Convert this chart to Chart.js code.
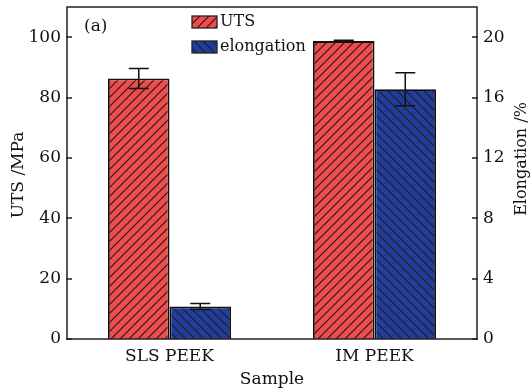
<!DOCTYPE html>
<html>
<head>
<meta charset="utf-8">
<script src="https://cdn.jsdelivr.net/npm/chart.js@4.4.0/dist/chart.umd.min.js"></script>
<style>
  html, body { margin: 0; padding: 0; background: #fff; }
  #wrap { width: 531px; height: 392px; }
</style>
</head>
<body>
<div id="wrap"><canvas id="chart" width="531" height="392"></canvas></div>
<script>
/* #region DATA */
const samples = ["SLS PEEK", "IM PEEK"];
const utsValues = [86.3, 98.7];
const utsErrors = [3.3, 0.3];
const elongValues = [2.15, 16.55];
const elongErrors = [0.2, 1.1];
const utsTicks = [0, 20, 40, 60, 80, 100];
const elongTicks = [0, 4, 8, 12, 16, 20];
/* #endregion */

const FONT = "'DejaVu Serif', serif";
const INK = "#111";
const ctx = document.getElementById("chart").getContext("2d");

// diagonal hatch fill, dir 1 = "/" and -1 = "\"
function hatch(color, dir) {
  const s = 9;
  const c = document.createElement("canvas");
  c.width = c.height = s;
  const g = c.getContext("2d");
  g.fillStyle = color;
  g.fillRect(0, 0, s, s);
  g.strokeStyle = "#2a1a1a";
  g.lineWidth = 1.2;
  g.beginPath();
  if (dir > 0) {
    g.moveTo(0, s); g.lineTo(s, 0);
    g.moveTo(-1, 1); g.lineTo(1, -1);
    g.moveTo(s - 1, s + 1); g.lineTo(s + 1, s - 1);
  } else {
    g.moveTo(0, 0); g.lineTo(s, s);
    g.moveTo(-1, s - 1); g.lineTo(1, s + 1);
    g.moveTo(s - 1, -1); g.lineTo(s + 1, 1);
  }
  g.stroke();
  return ctx.createPattern(c, "repeat");
}

const redFill = hatch("#ef4c4c", 1);
const blueFill = hatch("#1f3f9e", -1);

// keep the plot box fixed: no extra room for half-height edge labels
function fixPad(s) {
  s.paddingTop = 0;
  s.paddingBottom = 0;
  s.paddingLeft = 0;
  s.paddingRight = 0;
}

/* #region PLUGINS */
const errorBars = {
  id: "errorBars",
  afterDatasetsDraw(chart) {
    const c = chart.ctx;
    c.save();
    c.strokeStyle = INK;
    c.lineWidth = 1.5;
    chart.data.datasets.forEach((ds, i) => {
      const meta = chart.getDatasetMeta(i);
      const scale = chart.scales[ds.yAxisID];
      meta.data.forEach((bar, j) => {
        const v = ds.data[j], e = ds.errors[j];
        const top = scale.getPixelForValue(v + e);
        const bot = scale.getPixelForValue(v - e);
        c.beginPath();
        c.moveTo(bar.x, top); c.lineTo(bar.x, bot);
        c.moveTo(bar.x - 10, top); c.lineTo(bar.x + 10, top);
        c.moveTo(bar.x - 10, bot); c.lineTo(bar.x + 10, bot);
        c.stroke();
      });
    });
    c.restore();
  },
};

const frame = {
  id: "frame",
  afterDraw(chart) {
    const c = chart.ctx;
    const a = chart.chartArea;
    c.save();
    c.strokeStyle = "#222";
    c.lineWidth = 1.5;
    c.strokeRect(a.left, a.top, a.right - a.left, a.bottom - a.top);

    // inward tick marks on both value axes
    c.beginPath();
    chart.scales.y.ticks.forEach((t) => {
      const y = Math.round(chart.scales.y.getPixelForValue(t.value));
      c.moveTo(a.left - 1, y); c.lineTo(a.left + 5, y);
    });
    chart.scales.y2.ticks.forEach((t) => {
      const y = Math.round(chart.scales.y2.getPixelForValue(t.value));
      c.moveTo(a.right + 1, y); c.lineTo(a.right - 5, y);
    });
    c.stroke();

    c.fillStyle = INK;
    c.textAlign = "center";
    c.textBaseline = "middle";
    c.font = "17px " + FONT;

    // axis titles, both reading bottom to top
    c.save();
    c.translate(19, 175);
    c.rotate(-Math.PI / 2);
    c.fillText("UTS /MPa", 0, 0);
    c.restore();
    c.save();
    c.translate(522, 159);
    c.rotate(-Math.PI / 2);
    c.font = "16px " + FONT;
    c.fillText("Elongation /%", 0, 0);
    c.restore();

    c.font = "17px " + FONT;
    c.textAlign = "left";
    c.fillText("(a)", 84, 27);

    // legend
    const items = [
      { label: "UTS", fill: redFill, y: 16 },
      { label: "elongation", fill: blueFill, y: 41 },
    ];
    c.font = "16px " + FONT;
    items.forEach((it) => {
      c.fillStyle = it.fill;
      c.fillRect(192, it.y, 25, 12);
      c.lineWidth = 1.3;
      c.strokeRect(192, it.y, 25, 12);
      c.fillStyle = INK;
      c.fillText(it.label, 220, it.y + 6);
    });
    c.restore();
  },
};
/* #endregion */

new Chart(ctx, {
  type: "bar",
  data: {
    labels: samples,
    datasets: [
      {
        label: "UTS",
        data: utsValues,
        errors: utsErrors,
        yAxisID: "y",
        backgroundColor: redFill,
        borderColor: INK,
        borderWidth: 1.8,
      },
      {
        label: "elongation",
        data: elongValues,
        errors: elongErrors,
        yAxisID: "y2",
        backgroundColor: blueFill,
        borderColor: INK,
        borderWidth: 1.8,
      },
    ],
  },
  options: {
    responsive: false,
    animation: false,
    layout: { padding: { top: 7, left: 0, right: 0, bottom: 0 } },
    datasets: { bar: { categoryPercentage: 0.6, barPercentage: 1 } },
    plugins: { legend: { display: false }, tooltip: { enabled: false } },
    scales: {
      x: {
        grid: { display: false, drawTicks: false },
        border: { display: false },
        ticks: { color: INK, padding: 7, font: { family: FONT, size: 17 } },
        title: {
          display: true,
          text: "Sample",
          color: INK,
          padding: { top: 0, bottom: 2 },
          font: { family: FONT, size: 17 },
        },
        afterFit: (s) => { fixPad(s); s.height = 53; },
      },
      y: {
        position: "left",
        min: 0,
        max: 110,
        grid: { display: false, drawTicks: false },
        border: { display: false },
        afterBuildTicks: (s) => { s.ticks = utsTicks.map((v) => ({ value: v })); },
        ticks: { color: INK, padding: 6, font: { family: FONT, size: 17 } },
        afterFit: (s) => { fixPad(s); s.width = 67; },
      },
      y2: {
        position: "right",
        min: 0,
        max: 22,
        grid: { display: false, drawTicks: false },
        border: { display: false },
        afterBuildTicks: (s) => { s.ticks = elongTicks.map((v) => ({ value: v })); },
        ticks: { color: INK, padding: 6, font: { family: FONT, size: 17 } },
        afterFit: (s) => { fixPad(s); s.width = 54; },
      },
    },
  },
  plugins: [errorBars, frame],
});
</script>
</body>
</html>
